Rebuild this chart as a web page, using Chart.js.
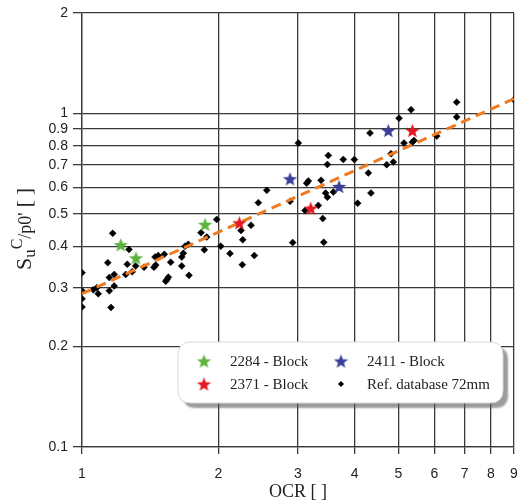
<!DOCTYPE html>
<html>
<head>
<meta charset="utf-8">
<script src="https://cdn.jsdelivr.net/npm/chart.js@4/dist/chart.umd.min.js"></script>
<style>
html,body{margin:0;padding:0;background:#fff;}
#wrap{width:523px;height:503px;position:relative;}
</style>
</head>
<body>
<div id="wrap"><canvas id="c" width="523" height="503"></canvas></div>
<script>
// ---- data ----
const xTicks = [1, 2, 3, 4, 5, 6, 7, 8, 9];
const yTicks = [0.1, 0.2, 0.3, 0.4, 0.5, 0.6, 0.7, 0.8, 0.9, 1, 2];

const refOCR = [1.00,1.00,1.00,1.00,1.059,1.078,1.086,1.140,1.149,1.159,1.149,1.178,1.178,1.169,
  1.270,1.259,1.249,1.291,1.314,1.371,1.442,1.455,1.450,1.474,1.520,1.570,1.531,1.541,1.551,
  1.661,1.661,1.689,1.717,1.674,1.723,1.832,
  1.984,1.886,1.863,2.025,2.123,2.260,2.402,2.245,2.265,2.362,2.452,2.559,2.881,2.920,3.109,3.136,3.162,3.327,3.402,3.420,3.005,
  4.327,3.500,3.483,3.777,3.996,3.373,3.453,3.483,3.591,4.064,4.290,4.348,4.710,4.815,4.872,5.144,5.366,5.412,5.015,5.331,6.075,6.725,6.725,9.0];
const refSu = [0.333,0.294,0.278,0.263,0.296,0.300,0.288,0.357,0.294,0.262,0.322,0.329,0.304,0.437,
  0.391,0.353,0.329,0.335,0.349,0.346,0.346,0.351,0.371,0.375,0.378,0.358,0.314,0.318,0.323,
  0.371,0.349,0.400,0.405,0.381,0.327,0.439,
  0.481,0.426,0.390,0.400,0.380,0.352,0.375,0.446,0.418,0.462,0.540,0.588,0.545,0.410,0.512,0.618,0.627,0.530,0.484,0.411,0.815,
  0.873,0.748,0.703,0.728,0.727,0.630,0.577,0.561,0.581,0.538,0.663,0.577,0.702,0.757,0.715,0.815,0.820,0.830,0.968,1.026,0.855,1.081,0.975,1.099];

const b2284OCR = [1.218, 1.316, 1.870];
const b2284Su  = [0.404, 0.369, 0.465];
const b2371OCR = [2.226, 3.200, 5.366];
const b2371Su  = [0.470, 0.520, 0.889];
const b2411OCR = [2.881, 3.697, 4.749];
const b2411Su  = [0.637, 0.604, 0.889];

const trendOCR = [1, 9];
const trendSu  = [0.288, 1.107];

const seriesNames = ['2284 - Block', '2411 - Block', '2371 - Block', 'Ref. database 72mm'];

// ---- helpers ----
const pts = (xs, ys) => xs.map((x, i) => ({x: x, y: ys[i]}));
function makeStar(color, size) {
  const c = document.createElement('canvas');
  c.width = c.height = size;
  const g = c.getContext('2d');
  const cx = size / 2, cy = size / 2 + size * 0.05, R = size / 2, r = R * 0.42;
  g.beginPath();
  for (let i = 0; i < 10; i++) {
    const a = -Math.PI / 2 + i * Math.PI / 5;
    const rr = i % 2 ? r : R;
    g.lineTo(cx + rr * Math.cos(a), cy + rr * Math.sin(a));
  }
  g.closePath();
  g.fillStyle = color;
  g.fill();
  return c;
}
const GREEN = '#5cb43c', RED = '#e31a22', BLUE = '#3b3e9a', ORANGE = '#ee7a22';
const starG = makeStar(GREEN, 15), starR = makeStar(RED, 15), starB = makeStar(BLUE, 15);

const GRID = '#3a3a3a';
const TICKFONT = {family: '"Liberation Sans", Arial, sans-serif', size: 14};

// legend plugin (rounded box with shadow, 2 columns)
const legendPlugin = {
  id: 'boxLegend',
  afterDatasetsDraw(chart) {
    const ctx = chart.ctx;
    const x0 = 178, y0 = 342, w = 325, h = 61, rad = 13;
    ctx.save();
    function rr(x, y) {
      ctx.beginPath();
      ctx.moveTo(x + rad, y);
      ctx.lineTo(x + w - rad, y);
      ctx.quadraticCurveTo(x + w, y, x + w, y + rad);
      ctx.lineTo(x + w, y + h - rad);
      ctx.quadraticCurveTo(x + w, y + h, x + w - rad, y + h);
      ctx.lineTo(x + rad, y + h);
      ctx.quadraticCurveTo(x, y + h, x, y + h - rad);
      ctx.lineTo(x, y + rad);
      ctx.quadraticCurveTo(x, y, x + rad, y);
      ctx.closePath();
    }
    ctx.shadowColor = 'rgba(90,90,90,0.6)';
    ctx.shadowBlur = 2;
    ctx.shadowOffsetX = 5;
    ctx.shadowOffsetY = 5;
    rr(x0, y0);
    ctx.fillStyle = '#ffffff';
    ctx.fill();
    ctx.shadowColor = 'transparent';
    ctx.strokeStyle = '#d8d8d8';
    ctx.lineWidth = 1;
    ctx.stroke();

    const items = [
      {img: starG, label: seriesNames[0], x: 204, y: 361},
      {img: starB, label: seriesNames[1], x: 341, y: 361},
      {img: starR, label: seriesNames[2], x: 204, y: 384},
      {img: null,  label: seriesNames[3], x: 341, y: 384}
    ];
    ctx.font = '15px "Liberation Serif", "Times New Roman", serif';
    ctx.fillStyle = '#222';
    ctx.textBaseline = 'middle';
    ctx.textAlign = 'left';
    items.forEach(it => {
      if (it.img) {
        ctx.drawImage(it.img, it.x - it.img.width / 2, it.y - it.img.height / 2);
      } else {
        ctx.beginPath();
        ctx.moveTo(it.x, it.y - 3); ctx.lineTo(it.x + 3, it.y);
        ctx.lineTo(it.x, it.y + 3); ctx.lineTo(it.x - 3, it.y);
        ctx.closePath();
        ctx.fillStyle = '#000'; ctx.fill();
        ctx.fillStyle = '#222';
      }
      ctx.fillText(it.label, it.x + 26, it.y + 1);
    });
    ctx.restore();
  }
};

// y-axis title with sub/superscripts
const yTitlePlugin = {
  id: 'yTitle',
  afterDraw(chart) {
    const ctx = chart.ctx;
    const parts = [
      {t: 'S', size: 22, shift: 0},
      {t: 'u', size: 17, shift: 4},
      {t: 'C', size: 16, shift: -9},
      {t: '/p0\'', size: 18, shift: 0},
      {t: ' [ ]', size: 21, shift: 0}
    ];
    const fam = '"Liberation Serif", "Times New Roman", serif';
    ctx.save();
    let total = 0;
    parts.forEach(p => { ctx.font = p.size + 'px ' + fam; p.w = ctx.measureText(p.t).width; total += p.w; });
    const cy = 229;
    ctx.translate(31, cy);
    ctx.rotate(-Math.PI / 2);
    ctx.fillStyle = '#222';
    ctx.textBaseline = 'alphabetic';
    let x = -total / 2;
    parts.forEach(p => {
      ctx.font = p.size + 'px ' + fam;
      ctx.fillText(p.t, x, p.shift);
      x += p.w;
    });
    ctx.restore();
  }
};

new Chart(document.getElementById('c'), {
  data: {
    datasets: [
      {type: 'scatter', label: seriesNames[0], data: pts(b2284OCR, b2284Su), pointStyle: starG, pointRadius: 7, order: 0},
      {type: 'scatter', label: seriesNames[1], data: pts(b2411OCR, b2411Su), pointStyle: starB, pointRadius: 7, order: 0},
      {type: 'scatter', label: seriesNames[2], data: pts(b2371OCR, b2371Su), pointStyle: starR, pointRadius: 7, order: 0},
      {type: 'line', label: 'trend', data: pts(trendOCR, trendSu), borderColor: ORANGE, borderWidth: 3,
        borderDash: [10, 6], pointRadius: 0, fill: false, order: 1},
      {type: 'scatter', label: seriesNames[3], data: pts(refOCR, refSu), pointStyle: 'rectRot', pointRadius: 3.5,
        backgroundColor: '#000', borderColor: '#000', borderWidth: 0.5, order: 2}
    ]
  },
  options: {
    responsive: false,
    animation: false,
    devicePixelRatio: 1,
    layout: {padding: {top: 13, right: 9, bottom: 0, left: 0}},
    plugins: {legend: {display: false}, tooltip: {enabled: false}},
    scales: {
      x: {
        type: 'logarithmic', min: 1, max: 9,
        afterBuildTicks: s => { s.ticks = xTicks.map(v => ({value: v})); },
        afterFit: s => { s.height = 56; s.paddingLeft = 0; s.paddingRight = 0; },
        ticks: {autoSkip: false, maxRotation: 0, padding: 12, color: '#222', font: TICKFONT,
          callback: v => String(v)},
        grid: {color: GRID, lineWidth: 1.3, tickLength: 7},
        border: {color: GRID, width: 1.3},
        title: {display: true, text: 'OCR [ ]', color: '#222', padding: {top: 0, bottom: 0},
          font: {family: '"Liberation Serif", "Times New Roman", serif', size: 18}}
      },
      y: {
        type: 'logarithmic', min: 0.1, max: 2,
        afterBuildTicks: s => { s.ticks = yTicks.map(v => ({value: v})); },
        afterFit: s => { s.width = 82; s.paddingTop = 0; s.paddingBottom = 0; },
        ticks: {autoSkip: false, padding: 5, color: '#222', font: TICKFONT,
          callback: v => String(v)},
        grid: {color: GRID, lineWidth: 1.3, tickLength: 9},
        border: {color: GRID, width: 1.3}
      }
    }
  },
  plugins: [legendPlugin, yTitlePlugin]
});
</script>
</body>
</html>
